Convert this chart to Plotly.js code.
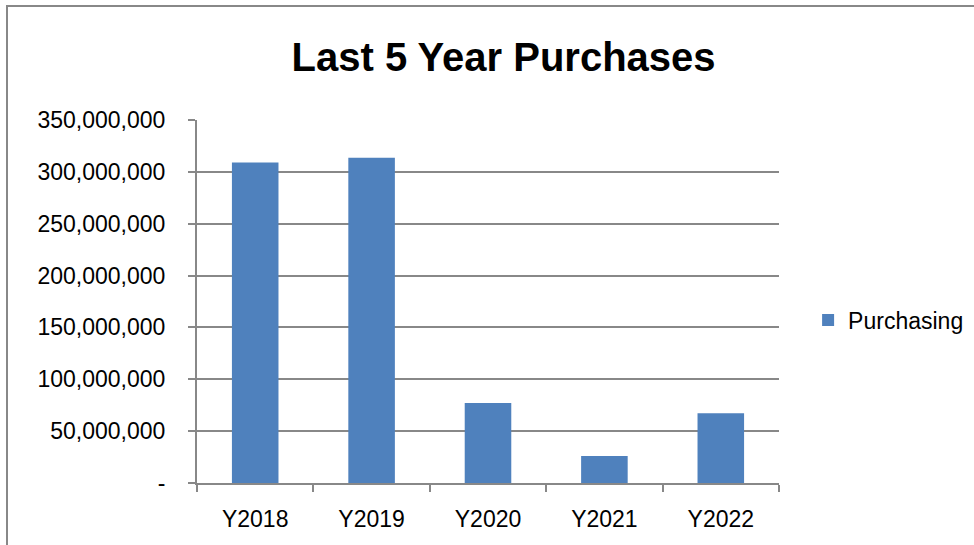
<!DOCTYPE html>
<html>
<head>
<meta charset="utf-8">
<script src="https://cdn.plot.ly/plotly-3.0.1.min.js"></script>
<style>
  html, body { margin: 0; padding: 0; background: #fff; }
  #wrap { position: relative; width: 974px; height: 545px; }
  #chart { width: 974px; height: 545px; }
  #frame { position: absolute; left: 6px; top: 5px; width: 980px; height: 560px;
           border-left: 2px solid #888; border-top: 2px solid #888; pointer-events: none; }
</style>
</head>
<body>
<div id="wrap">
  <div id="chart"></div>
  <div id="frame"></div>
</div>
<script>
const categories = ["Y2018", "Y2019", "Y2020", "Y2021", "Y2022"];
const purchasing = [309000000, 313500000, 77200000, 26000000, 67300000];
const seriesName = "Purchasing";
const yTickVals = [0, 50000000, 100000000, 150000000, 200000000, 250000000, 300000000, 350000000];
const yTickText = ["-", "50,000,000", "100,000,000", "150,000,000", "200,000,000", "250,000,000", "300,000,000", "350,000,000"];

const FONT = "Liberation Sans, Arial, sans-serif";

const data = [{
  type: "bar",
  x: categories,
  y: purchasing,
  name: seriesName,
  marker: { color: "#4F81BD", line: { width: 0 } },
  showlegend: true,
  hoverinfo: "x+y"
}];

const layout = {
  width: 974,
  height: 545,
  margin: { l: 197, r: 195, t: 120, b: 62, autoexpand: false },
  paper_bgcolor: "#ffffff",
  plot_bgcolor: "#ffffff",
  font: { family: FONT, size: 23, color: "#000000" },
  title: {
    text: "<b>Last 5 Year Purchases</b>",
    font: { family: FONT, size: 40, color: "#000000" },
    xref: "container", yref: "container",
    x: 0.517, xanchor: "center",
    y: 1 - 57 / 545, yanchor: "middle"
  },
  bargap: 0.6,
  xaxis: {
    type: "category",
    showgrid: false,
    showline: true,
    linecolor: "#888888",
    linewidth: 2,
    ticks: "outside",
    tickson: "boundaries",
    ticklen: 7,
    tickwidth: 2,
    tickcolor: "#888888",
    ticklabelstandoff: 14,
    tickfont: { family: FONT, size: 23, color: "#000000" },
    fixedrange: true
  },
  yaxis: {
    range: [0, 350000000],
    tickmode: "array",
    tickvals: yTickVals,
    ticktext: yTickText,
    showgrid: true,
    gridcolor: "#888888",
    gridwidth: 2,
    zeroline: false,
    showline: true,
    linecolor: "#888888",
    linewidth: 2,
    ticks: "outside",
    ticklen: 7,
    tickwidth: 2,
    tickcolor: "#888888",
    ticklabelstandoff: 18,
    tickfont: { family: FONT, size: 23, color: "#000000" },
    fixedrange: true
  },
  showlegend: true,
  legend: {
    x: 1.05, xanchor: "left",
    y: 0.449, yanchor: "middle",
    font: { family: FONT, size: 23, color: "#000000" },
    bgcolor: "rgba(0,0,0,0)",
    borderwidth: 0
  }
};

Plotly.newPlot("chart", data, layout, { displayModeBar: false, staticPlot: true });
</script>
</body>
</html>
